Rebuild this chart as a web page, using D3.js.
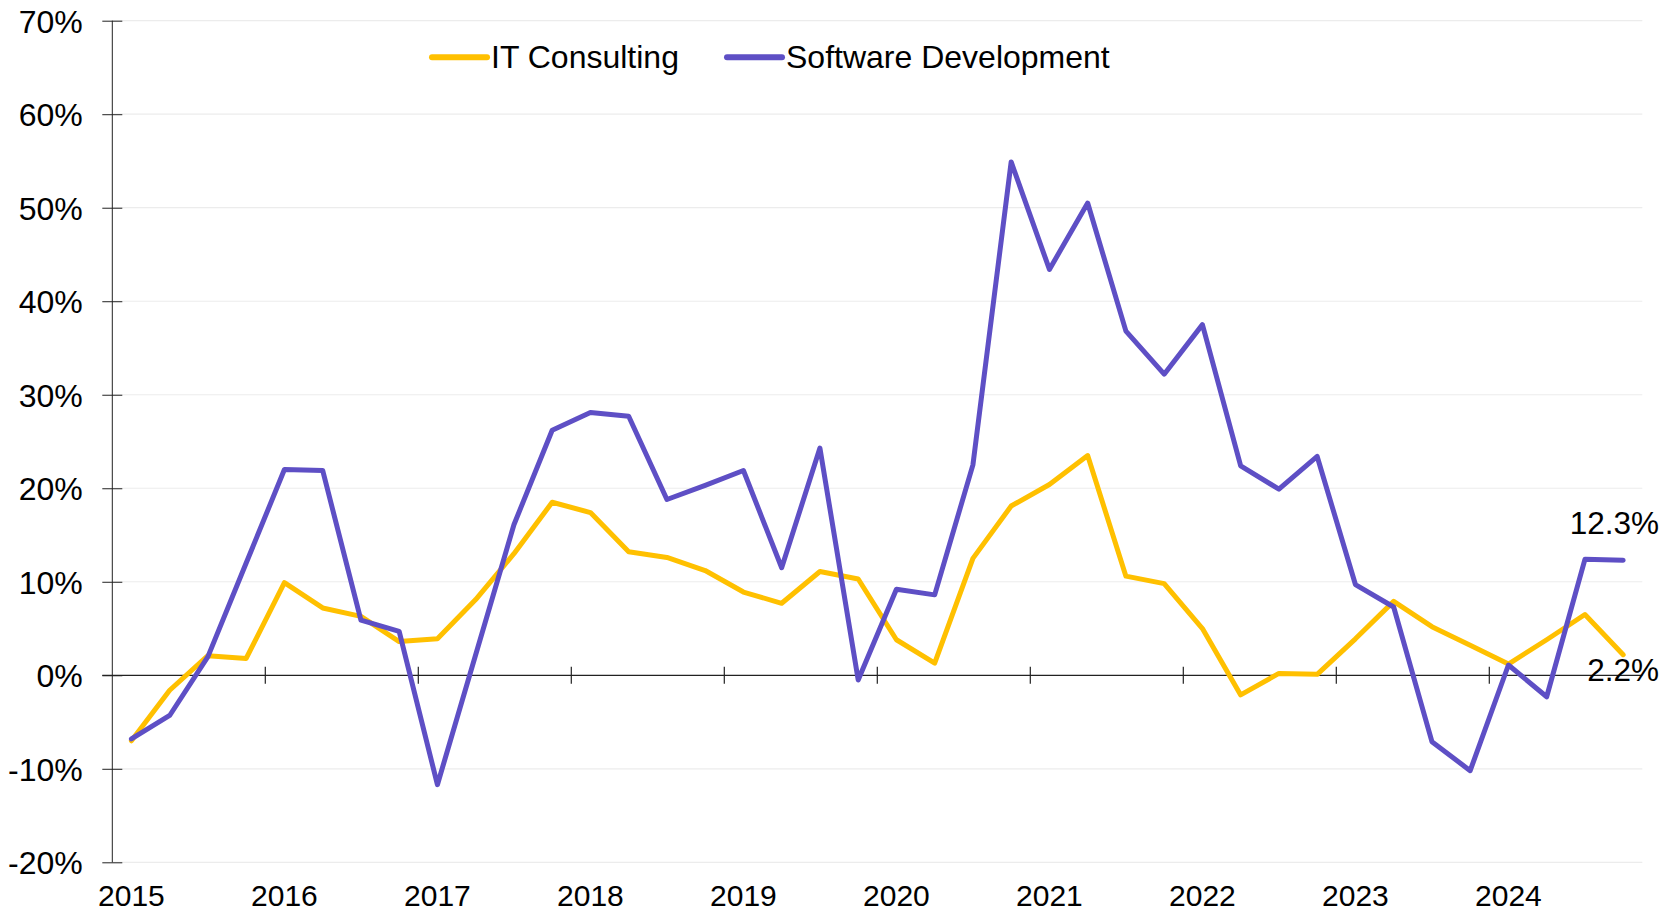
<!DOCTYPE html>
<html>
<head>
<meta charset="utf-8">
<script src="https://cdn.jsdelivr.net/npm/d3@7"></script>
<style>
	body { margin: 0; background: #fff; }
	text { font-family: "Liberation Sans", Arial, sans-serif; fill: #000; }
</style>
</head>
<body>
<div class="chartDiv"></div>
<script>

var years = ["2015", "2016", "2017", "2018", "2019", "2020", "2021", "2022", "2023", "2024"];
var quarterNames = ["Q1", "Q2", "Q3", "Q4"];
var yTicks = [-20, -10, 0, 10, 20, 30, 40, 50, 60, 70];

// quarterly growth, % (2015 Q1 .. 2024 Q4)
var itConsulting = [-7.0, -1.6, 2.1, 1.8, 9.9, 7.2, 6.3, 3.6, 3.9, 8.1,
	13.0, 18.5, 17.4, 13.2, 12.6, 11.2, 8.9, 7.7, 11.1, 10.3,
	3.8, 1.3, 12.5, 18.1, 20.4, 23.5, 10.6, 9.8, 5.0, -2.1,
	0.2, 0.1, 3.9, 7.9, 5.2, 3.2, 1.2, 3.8, 6.5, 2.2];
var softwareDev = [-6.8, -4.3, 2.0, 12.0, 22.0, 21.9, 5.9, 4.7, -11.7, 2.2,
	16.1, 26.2, 28.1, 27.7, 18.8, 20.3, 21.9, 11.5, 24.3, -0.5,
	9.2, 8.6, 22.5, 54.9, 43.4, 50.5, 36.8, 32.2, 37.5, 22.4,
	19.9, 23.4, 9.7, 7.3, -7.1, -10.2, 1.1, -2.3, 12.4, 12.3];

var seriesNames = ["IT Consulting", "Software Development"];
var colors = ["#FFC000", "#5E4FC5"];

function lineChart()
{
	var quarters = [];
	years.forEach(function (y) { quarterNames.forEach(function (q) { quarters.push(y + " " + q); }); });

	var series = [
		{ name: seriesNames[0], values: itConsulting, color: colors[0] },
		{ name: seriesNames[1], values: softwareDev, color: colors[1] }
	];

	var width = 1662, height = 913;
	var margin = {top: 20.7, left: 112.3, right: 20, bottom: 50.7};

	var svg = d3.select(".chartDiv").append("svg")
		.attr("width", width)
		.attr("height", height);

	var xScale = d3.scaleBand().domain(quarters).range([margin.left, 1642.3]);
	var yScale = d3.scaleLinear().domain([-20, 70]).range([height - margin.bottom, margin.top]);
	var xMid = function (i) { return xScale(quarters[i]) + xScale.bandwidth() / 2; };

	// light gridlines
	svg.append("g")
		.selectAll("line")
		.data(yTicks.filter(function (d) { return d !== 0; }))
		.enter().append("line")
		.attr("x1", margin.left).attr("x2", xScale.range()[1])
		.attr("y1", function (d) { return yScale(d); })
		.attr("y2", function (d) { return yScale(d); })
		.attr("stroke", "#ececec")
		.attr("stroke-width", 1.2);

	// y axis with ticks crossing the line
	var yAxis = svg.append("g")
		.attr("transform", "translate(" + margin.left + ",0)")
		.call(d3.axisLeft(yScale).tickValues(yTicks).tickSize(10).tickFormat(function (d) { return d + "%"; }));
	yAxis.select(".domain").attr("stroke", "#222").attr("d", "M0," + yScale(-20) + "V" + yScale(70));
	yAxis.selectAll(".tick line").attr("x2", 10).attr("x1", -10).attr("stroke", "#222");
	yAxis.selectAll(".tick text")
		.attr("x", -29.5)
		.attr("dy", "0.36em")
		.style("font-size", "32px")
		.style("font-family", "Liberation Sans, Arial, sans-serif")
		.attr("fill", "#000");

	// zero line with year boundary ticks
	var zeroAxis = svg.append("g")
		.attr("transform", "translate(0," + yScale(0) + ")");
	zeroAxis.append("line")
		.attr("x1", margin.left - 10).attr("x2", xScale.range()[1])
		.attr("stroke", "#222").attr("stroke-width", 1.2);
	zeroAxis.selectAll(".yeartick")
		.data(years.slice(1))
		.enter().append("line")
		.attr("class", "yeartick")
		.attr("x1", function (d) { return xScale(d + " Q1"); })
		.attr("x2", function (d) { return xScale(d + " Q1"); })
		.attr("y1", -8.5).attr("y2", 8.5)
		.attr("stroke", "#222").attr("stroke-width", 1.2);

	// year labels at bottom, under the first quarter
	svg.append("g")
		.selectAll("text")
		.data(years)
		.enter().append("text")
		.attr("x", function (d) { return xScale(d + " Q1") + xScale.bandwidth() / 2; })
		.attr("y", 906)
		.attr("text-anchor", "middle")
		.style("font-size", "30px")
		.text(String);

	var line = d3.line()
		.x(function (d, i) { return xMid(i); })
		.y(function (d) { return yScale(d); });

	svg.append("g")
		.selectAll("path")
		.data(series)
		.enter().append("path")
		.attr("d", function (d) { return line(d.values); })
		.attr("fill", "none")
		.attr("stroke", function (d) { return d.color; })
		.attr("stroke-width", 5)
		.attr("stroke-linejoin", "round")
		.attr("stroke-linecap", "round");

	// end labels
	var last = quarters.length - 1;
	svg.append("text")
		.attr("x", 1659).attr("y", yScale(softwareDev[last]) - 26)
		.attr("text-anchor", "end")
		.style("font-size", "31.5px")
		.text(softwareDev[last].toFixed(1) + "%");
	svg.append("text")
		.attr("x", 1659).attr("y", yScale(itConsulting[last]) + 26)
		.attr("text-anchor", "end")
		.style("font-size", "31.5px")
		.text(itConsulting[last].toFixed(1) + "%");

	// legend
	var legendX = [432, 727];
	var legend = svg.append("g")
		.selectAll("g")
		.data(series)
		.enter().append("g")
		.attr("transform", function (d, i) { return "translate(" + legendX[i] + ",57.3)"; });
	legend.append("line")
		.attr("x1", 0).attr("x2", 55)
		.attr("stroke", function (d) { return d.color; })
		.attr("stroke-width", 6)
		.attr("stroke-linecap", "round");
	legend.append("text")
		.attr("x", 59)
		.attr("y", 11)
		.style("font-size", "32px")
		.text(function (d) { return d.name; });
}

lineChart();
</script>
</body>
</html>
